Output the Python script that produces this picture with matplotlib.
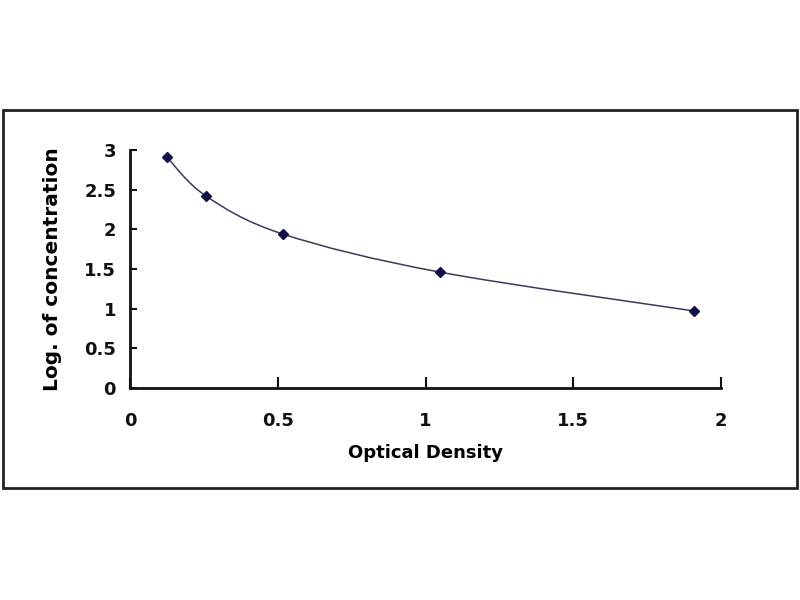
import matplotlib
matplotlib.use('Agg')
import matplotlib.pyplot as plt
from matplotlib.path import Path
from matplotlib.patches import PathPatch, Rectangle
import numpy as np

# standard curve points
optical_density = [0.125, 0.257, 0.518, 1.05, 1.91]
log_conc = [2.91, 2.42, 1.94, 1.46, 0.97]

x_ticks = [0, 0.5, 1, 1.5, 2]
x_tick_labels = ['0', '0.5', '1', '1.5', '2']
y_ticks = [0, 0.5, 1, 1.5, 2, 2.5, 3]
y_tick_labels = ['0', '0.5', '1', '1.5', '2', '2.5', '3']


def smooth_path(xs, ys, tension=1.0 / 6):
    # spreadsheet-style smoothed line: bezier segments between the points
    pts = np.column_stack([xs, ys])
    verts = [pts[0]]
    codes = [Path.MOVETO]
    n = len(pts)
    for i in range(n - 1):
        p0 = pts[max(i - 1, 0)]
        p1 = pts[i]
        p2 = pts[i + 1]
        p3 = pts[min(i + 2, n - 1)]
        c1 = p1 + (p2 - p0) * tension
        c2 = p2 - (p3 - p1) * tension
        verts += [c1, c2, p2]
        codes += [Path.CURVE4] * 3
    return Path(verts, codes)


plt.rcParams['font.family'] = ['DejaVu Sans']
plt.rcParams['font.weight'] = 'bold'

fig = plt.figure(figsize=(8, 6), dpi=100)
fig.patch.set_facecolor('white')

# outer frame around the chart
fig.patches.append(Rectangle((3 / 800, 1 - 488 / 600), 794 / 800, 378 / 600,
                             transform=fig.transFigure, fill=False,
                             edgecolor='#222222', linewidth=2))

ax = fig.add_axes([130 / 800, 1 - 388 / 600, 591 / 800, 238 / 600])

ax.add_patch(PathPatch(smooth_path(optical_density, log_conc), fill=False,
                       edgecolor='#3a3a5c', linewidth=1.1))
ax.plot(optical_density, log_conc, linestyle='none', marker='D',
        markersize=5, color='#10104a')

ax.set_xlim(0, 2)
ax.set_ylim(0, 3)
ax.set_xticks(x_ticks)
ax.set_xticklabels(x_tick_labels)
ax.set_yticks(y_ticks)
ax.set_yticklabels(y_tick_labels)

for side in ['top', 'right']:
    ax.spines[side].set_visible(False)
for side in ['left', 'bottom']:
    ax.spines[side].set_linewidth(2)
    ax.spines[side].set_color('#111111')

ax.tick_params(axis='x', direction='in', length=8, width=1.5, pad=17,
               labelsize=13, colors='#111111')
ax.tick_params(axis='y', direction='in', length=5, width=1.5, pad=10,
               labelsize=13, colors='#111111')

ax.set_xlabel('Optical Density', fontsize=13, fontweight='bold', labelpad=10)
ax.set_ylabel('Log. of concentration', fontsize=14.5, fontweight='bold',
              labelpad=16)

fig.savefig('out.png', dpi=100)
